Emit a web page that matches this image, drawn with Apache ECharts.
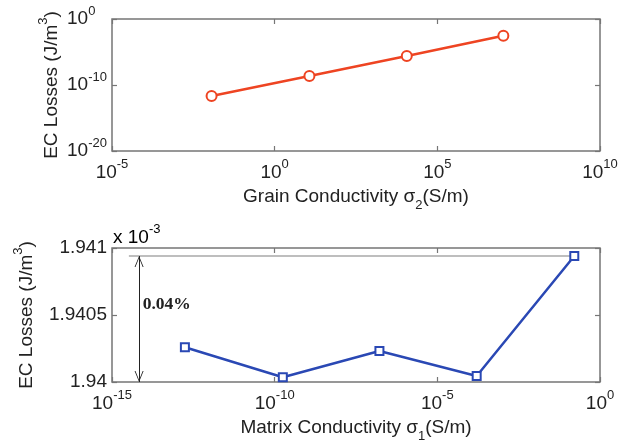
<!DOCTYPE html>
<html><head><meta charset="utf-8">
<script src="https://cdn.jsdelivr.net/npm/echarts@6/dist/echarts.min.js"></script>
<style>html,body{margin:0;padding:0;background:#fff}#c{width:639px;height:444px}</style>
</head><body><div id="c"></div>
<script>
// Top panel: EC losses vs grain conductivity
const grainSigma = [1.15e-2, 11.7, 1.15e4, 1.07e7];
const grainLosses = [2.14e-12, 2.29e-9, 2.51e-6, 2.95e-3];
// Bottom panel: EC losses (x 1e-3) vs matrix conductivity
const matrixSigma = [1.74e-13, 1.78e-10, 1.66e-7, 1.62e-4, 0.162];
const matrixLosses = [1.940259, 1.940035, 1.940231, 1.940045, 1.940940];
// Axis ranges / ticks
const topX = {min: 1e-5, max: 1e10, interval: 5};
const topY = {min: 1e-20, max: 1, interval: 10};
const botX = {min: 1e-15, max: 1, interval: 5};
const botY = {min: 1.94, max: 1.941, interval: 0.0005};
const annotText = '0.04%';

const FONT = 'Liberation Sans';
const TXT = '#222';
const AX = '#767676';
const supRich = {
  b: {fontSize: 19, fontFamily: FONT, color: TXT, lineHeight: 29, verticalAlign: 'middle'},
  s: {fontSize: 13, fontFamily: FONT, color: TXT, lineHeight: 13, verticalAlign: 'top'}
};
const subRich = {
  n: {fontSize: 19, fontFamily: FONT, color: TXT, lineHeight: 19, verticalAlign: 'top'},
  u: {fontSize: 13, fontFamily: FONT, color: TXT, lineHeight: 37, verticalAlign: 'middle'}
};
function pow10(v) {
  const e = Math.round(Math.log10(v));
  return '{b|10}{s|' + e + '}';
}
const tickBase = {show: true, inside: true, length: 5, lineStyle: {color: AX, width: 1.2}};
function logAxis(r, extra) {
  return Object.assign({
    type: 'log', logBase: 10, min: r.min, max: r.max, interval: r.interval,
    axisLine: {show: false}, axisTick: tickBase, splitLine: {show: false}, minorTick: {show: false}
  }, extra);
}
const yName = '{b|EC Losses (J/m}{s|3}{b|)}';
const chevron = 'path://M5,0 M5,11 L10,22 L9,22 L5,13 L1,22 L0,22 Z';

const chart = echarts.init(document.getElementById('c'), null, {renderer: 'canvas'});
chart.setOption({
  animation: false,
  backgroundColor: '#fff',
  grid: [
    {left: 112, right: 39, top: 19, height: 132, show: true, borderColor: AX, borderWidth: 1.5, backgroundColor: '#fff'},
    {left: 112, right: 39, top: 248, height: 134, show: true, borderColor: AX, borderWidth: 1.5, backgroundColor: '#fff'}
  ],
  xAxis: [
    logAxis(topX, {gridIndex: 0, position: 'bottom',
      axisLabel: {formatter: pow10, rich: supRich, margin: 7},
      name: '{n|Grain Conductivity σ}{u|2}{n|(S/m)}', nameLocation: 'middle', nameGap: 36, nameMoveOverlap: false,
      nameTextStyle: {rich: subRich}}),
    logAxis(topX, {gridIndex: 0, position: 'top', axisLabel: {show: false}}),
    logAxis(botX, {gridIndex: 1, position: 'bottom',
      axisLabel: {formatter: pow10, rich: supRich, margin: 7},
      name: '{n|Matrix Conductivity σ}{u|1}{n|(S/m)}', nameLocation: 'middle', nameGap: 36, nameMoveOverlap: false,
      nameTextStyle: {rich: subRich}}),
    logAxis(botX, {gridIndex: 1, position: 'top', axisLabel: {show: false}})
  ],
  yAxis: [
    logAxis(topY, {gridIndex: 0, position: 'left',
      axisLabel: {formatter: pow10, rich: supRich, margin: 45, align: 'left'},
      name: yName, nameLocation: 'middle', nameGap: 46, nameMoveOverlap: false, nameTextStyle: {rich: supRich}}),
    logAxis(topY, {gridIndex: 0, position: 'right', axisLabel: {show: false}}),
    {type: 'value', gridIndex: 1, position: 'left', min: botY.min, max: botY.max, interval: botY.interval,
      axisLine: {show: false}, axisTick: tickBase, splitLine: {show: false},
      axisLabel: {formatter: v => String(parseFloat(v.toFixed(4))), fontSize: 19, fontFamily: FONT, color: TXT, margin: 5},
      name: yName, nameLocation: 'middle', nameGap: 71, nameMoveOverlap: false, nameTextStyle: {rich: supRich}},
    {type: 'value', gridIndex: 1, position: 'right', min: botY.min, max: botY.max, interval: botY.interval,
      axisLine: {show: false}, axisTick: tickBase, splitLine: {show: false}, axisLabel: {show: false}}
  ],
  graphic: [
    {type: 'text', left: 113, top: 223, style: {text: '{b|x 10}{s|-3}', rich: supRich}}
  ],
  series: [
    {type: 'line', xAxisIndex: 0, yAxisIndex: 0, data: grainSigma.map((x, i) => [x, grainLosses[i]]),
      lineStyle: {color: '#EE4422', width: 2.5}, itemStyle: {color: '#EE4422', borderWidth: 2.5},
      symbol: 'emptyCircle', symbolSize: 10, z: 5},
    {type: 'line', xAxisIndex: 2, yAxisIndex: 2, data: [], silent: true,
      markLine: {silent: true, animation: false, symbol: 'none', label: {show: false},
        lineStyle: {color: '#a8a8a8', width: 1.5, type: 'solid'},
        data: [[{coord: [3.3e-15, Math.max(...matrixLosses)]}, {coord: [matrixSigma[matrixSigma.length - 1], Math.max(...matrixLosses)]}]]}},
    {type: 'line', xAxisIndex: 2, yAxisIndex: 2, data: [], silent: true,
      markLine: {silent: true, animation: false,
        symbol: [chevron, chevron], symbolSize: [9, 22],
        label: {show: false}, lineStyle: {color: '#222', width: 1, type: 'solid'},
        data: [[{coord: [6.8e-15, botY.min]}, {coord: [6.8e-15, Math.max(...matrixLosses)]}]]}},
    {type: 'line', xAxisIndex: 2, yAxisIndex: 2, data: matrixSigma.map((x, i) => [x, matrixLosses[i]]),
      lineStyle: {color: '#2A48B4', width: 2.5}, itemStyle: {color: '#2A48B4', borderWidth: 2.5},
      symbol: 'emptyRect', symbolSize: 8, z: 5,
      markPoint: {silent: true, symbol: 'rect', symbolSize: 1, itemStyle: {color: 'rgba(0,0,0,0)'},
        label: {show: true, position: 'right', distance: 0, formatter: annotText, fontFamily: 'Liberation Serif', fontWeight: 'bold', fontSize: 17.5, color: '#222'},
        data: [{coord: [8.5e-15, 1.940578]}]}}
  ]
});
</script></body></html>
